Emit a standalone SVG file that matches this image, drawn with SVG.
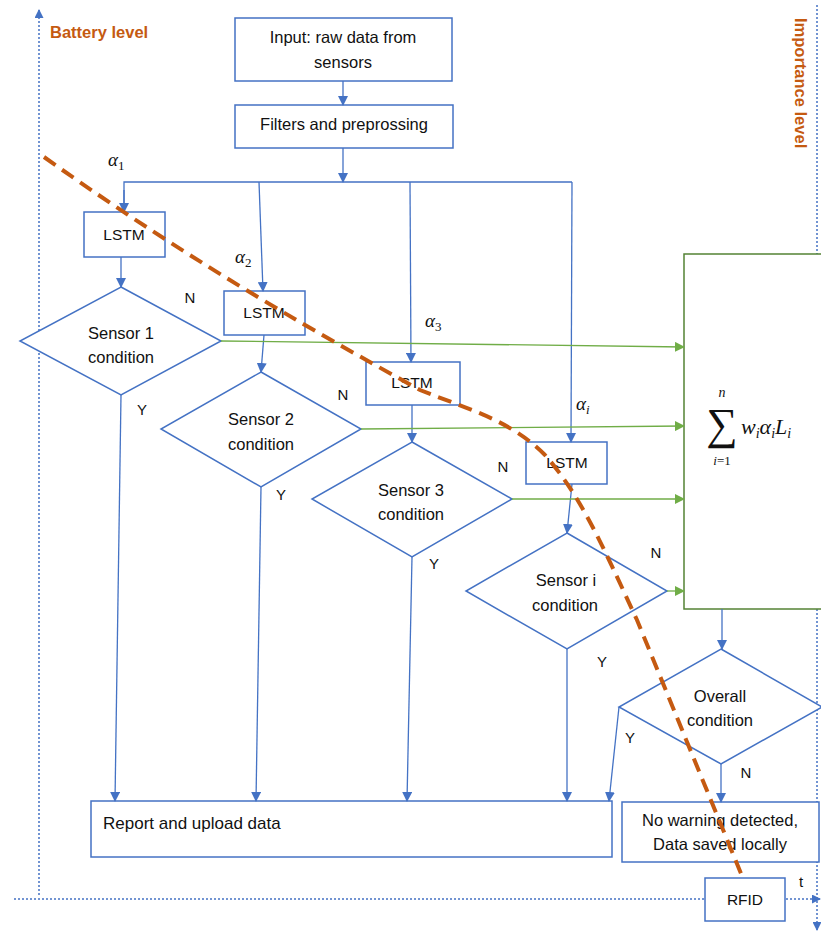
<svg xmlns="http://www.w3.org/2000/svg" width="821" height="933" viewBox="0 0 821 933">
<defs>
<marker id="ab" markerWidth="10" markerHeight="10" refX="9" refY="5" orient="auto" markerUnits="userSpaceOnUse"><path d="M0,0 L10,5 L0,10 z" fill="#4472C4"/></marker>
<marker id="ag" markerWidth="10" markerHeight="10" refX="9" refY="5" orient="auto" markerUnits="userSpaceOnUse"><path d="M0,0 L10,5 L0,10 z" fill="#70AD47"/></marker>
<marker id="ad" markerWidth="9" markerHeight="9" refX="8" refY="4.5" orient="auto" markerUnits="userSpaceOnUse"><path d="M0,0 L9,4.5 L0,9 z" fill="#4472C4"/></marker>
<style>
.box{fill:#fff;stroke:#4472C4;stroke-width:1.5}
.dia{fill:#fff;stroke:#4472C4;stroke-width:1.5}
.t{font-family:"Liberation Sans",Arial,sans-serif;font-size:16.5px;fill:#111;text-anchor:middle}
.ts{font-family:"Liberation Sans",Arial,sans-serif;font-size:15.5px;fill:#111;text-anchor:middle}
.tl{font-family:"Liberation Sans",Arial,sans-serif;font-size:17px;fill:#111}
.lab{font-family:"Liberation Sans",Arial,sans-serif;font-size:15px;fill:#111;text-anchor:middle}
.ax{fill:none;stroke:#4472C4;stroke-width:1.5;stroke-dasharray:2,2}
.cb{fill:none;stroke:#4472C4;stroke-width:1.3}
.cg{fill:none;stroke:#70AD47;stroke-width:1.3}
.or{font-family:"Liberation Sans",Arial,sans-serif;font-size:16.5px;font-weight:bold;fill:#C55A11}
.m{font-family:"Liberation Serif","Times New Roman",serif;font-style:italic;fill:#111}
.mn{font-family:"Liberation Serif","Times New Roman",serif;font-style:normal;fill:#111}
</style>
</defs>

<g id="axes">
<line class="ax" x1="39" y1="895" x2="39" y2="10" marker-end="url(#ad)"/>
<line class="ax" x1="14" y1="899" x2="820" y2="899" marker-end="url(#ad)"/>
<line class="ax" x1="817" y1="5" x2="817" y2="930" marker-end="url(#ad)"/>
<text class="or" x="50" y="38">Battery level</text>
<text class="or" transform="translate(795,18) rotate(90)">Importance level</text>
<text class="lab" x="801" y="887">t</text>
</g>

<g id="input"><rect class="box" x="235" y="18" width="217" height="63"/><text class="t" x="343" y="43" font-size="17">Input: raw data from</text><text class="t" x="343" y="68" font-size="17">sensors</text></g>
<g id="filters"><rect class="box" x="235" y="105" width="218" height="43"/><text class="t" x="344" y="130" font-size="17">Filters and preprossing</text></g>

<g id="lstm1"><rect class="box" x="84" y="212" width="81" height="45"/><text class="ts" x="124" y="240">LSTM</text></g>
<g id="lstm2"><rect class="box" x="224" y="291" width="81" height="44"/><text class="ts" x="264" y="318">LSTM</text></g>
<g id="lstm3"><rect class="box" x="366" y="362" width="94" height="43"/><text class="ts" x="412" y="388">LSTM</text></g>
<g id="lstm4"><rect class="box" x="526" y="442" width="81" height="42"/><text class="ts" x="567" y="468">LSTM</text></g>

<g id="sensor1"><polygon class="dia" points="121,287 221,341 121,395 20,341"/><text class="t" x="121" y="339">Sensor 1</text><text class="t" x="121" y="363">condition</text></g>
<g id="sensor2"><polygon class="dia" points="261,372 361,429 261,487 161,429"/><text class="t" x="261" y="425">Sensor 2</text><text class="t" x="261" y="450">condition</text></g>
<g id="sensor3"><polygon class="dia" points="412,442 512,499 412,557 312,499"/><text class="t" x="411" y="496">Sensor 3</text><text class="t" x="411" y="520">condition</text></g>
<g id="sensori"><polygon class="dia" points="567,533 667,591 567,649 466,591"/><text class="t" x="566" y="586">Sensor i</text><text class="t" x="565" y="611">condition</text></g>

<g id="sum">
<rect x="684" y="254" width="140" height="355" fill="#fff" stroke="#548235" stroke-width="1.5"/>
<text class="m" x="722" y="397" font-size="14" text-anchor="middle">n</text>
<text class="mn" x="722" y="439" font-size="44" text-anchor="middle">∑</text>
<text class="m" x="722" y="465" font-size="13" text-anchor="middle">i<tspan class="mn">=1</tspan></text>
<text class="m" x="741" y="434" font-size="22">w<tspan font-size="14" dy="4">i</tspan><tspan dy="-4">α</tspan><tspan font-size="14" dy="4">i</tspan><tspan dy="-4">L</tspan><tspan font-size="14" dy="4">i</tspan></text>
</g>

<g id="overall"><polygon class="dia" points="721,649 822,707 721,764 619,707"/><text class="t" x="720" y="702">Overall</text><text class="t" x="720" y="726">condition</text></g>
<g id="report"><rect class="box" x="91" y="801" width="521" height="56"/><text class="tl" x="103" y="829">Report and upload data</text></g>
<g id="nowarning"><rect class="box" x="622" y="802" width="197" height="60"/><text class="t" x="720" y="826" font-size="17">No warning detected,</text><text class="t" x="720" y="850" font-size="17">Data saved locally</text></g>
<g id="rfid"><rect class="box" x="705" y="878" width="80" height="43"/><text class="ts" x="745" y="905">RFID</text></g>

<g id="connectors">
<line class="cb" x1="343" y1="81" x2="343" y2="105" marker-end="url(#ab)"/>
<line class="cb" x1="343" y1="148" x2="343" y2="182" marker-end="url(#ab)"/>
<polyline class="cb" points="124,212 124,182 572,182"/>
<line class="cb" x1="124" y1="190" x2="124" y2="212" marker-end="url(#ab)"/>
<line class="cb" x1="259" y1="182" x2="263" y2="291" marker-end="url(#ab)"/>
<line class="cb" x1="410" y1="182" x2="411" y2="362" marker-end="url(#ab)"/>
<line class="cb" x1="572" y1="182" x2="571" y2="442" marker-end="url(#ab)"/>
<line class="cb" x1="121" y1="257" x2="121" y2="287" marker-end="url(#ab)"/>
<line class="cb" x1="264" y1="335" x2="261" y2="372" marker-end="url(#ab)"/>
<line class="cb" x1="412" y1="405" x2="412" y2="442" marker-end="url(#ab)"/>
<line class="cb" x1="572" y1="484" x2="567" y2="533" marker-end="url(#ab)"/>
<line class="cg" x1="221" y1="341" x2="684" y2="347" marker-end="url(#ag)"/>
<line class="cg" x1="361" y1="429" x2="684" y2="426" marker-end="url(#ag)"/>
<line class="cg" x1="512" y1="499" x2="684" y2="499" marker-end="url(#ag)"/>
<line class="cg" x1="667" y1="591" x2="684" y2="591" marker-end="url(#ag)"/>
<line class="cb" x1="121" y1="395" x2="115" y2="801" marker-end="url(#ab)"/>
<line class="cb" x1="261" y1="487" x2="256" y2="801" marker-end="url(#ab)"/>
<line class="cb" x1="412" y1="557" x2="407" y2="801" marker-end="url(#ab)"/>
<line class="cb" x1="567" y1="649" x2="567" y2="801" marker-end="url(#ab)"/>
<line class="cb" x1="722" y1="609" x2="722" y2="649" marker-end="url(#ab)"/>
<line class="cb" x1="619" y1="707" x2="609" y2="801" marker-end="url(#ab)"/>
<line class="cb" x1="721" y1="764" x2="721" y2="802" marker-end="url(#ab)"/>
<text class="lab" x="190" y="303">N</text>
<text class="lab" x="142" y="415">Y</text>
<text class="lab" x="343" y="400">N</text>
<text class="lab" x="281" y="500">Y</text>
<text class="lab" x="503" y="472">N</text>
<text class="lab" x="434" y="569">Y</text>
<text class="lab" x="656" y="558">N</text>
<text class="lab" x="602" y="667">Y</text>
<text class="lab" x="630" y="743">Y</text>
<text class="lab" x="746" y="778">N</text>
</g>

<g id="alphas">
<text class="m" x="108" y="166" font-size="19">α<tspan class="mn" font-size="13" dy="4">1</tspan></text>
<text class="m" x="235" y="263" font-size="19">α<tspan class="mn" font-size="13" dy="4">2</tspan></text>
<text class="m" x="425" y="327" font-size="19">α<tspan class="mn" font-size="13" dy="4">3</tspan></text>
<text class="m" x="576" y="410" font-size="19">α<tspan font-size="13" dy="4">i</tspan></text>
</g>

<path id="energy" d="M44,157 C200,268 330,340 420,390 C470,410 510,420 545,455 C580,495 600,540 637,620 L742,876" fill="none" stroke="#C55A11" stroke-width="4" stroke-dasharray="14,8"/>
</svg>
